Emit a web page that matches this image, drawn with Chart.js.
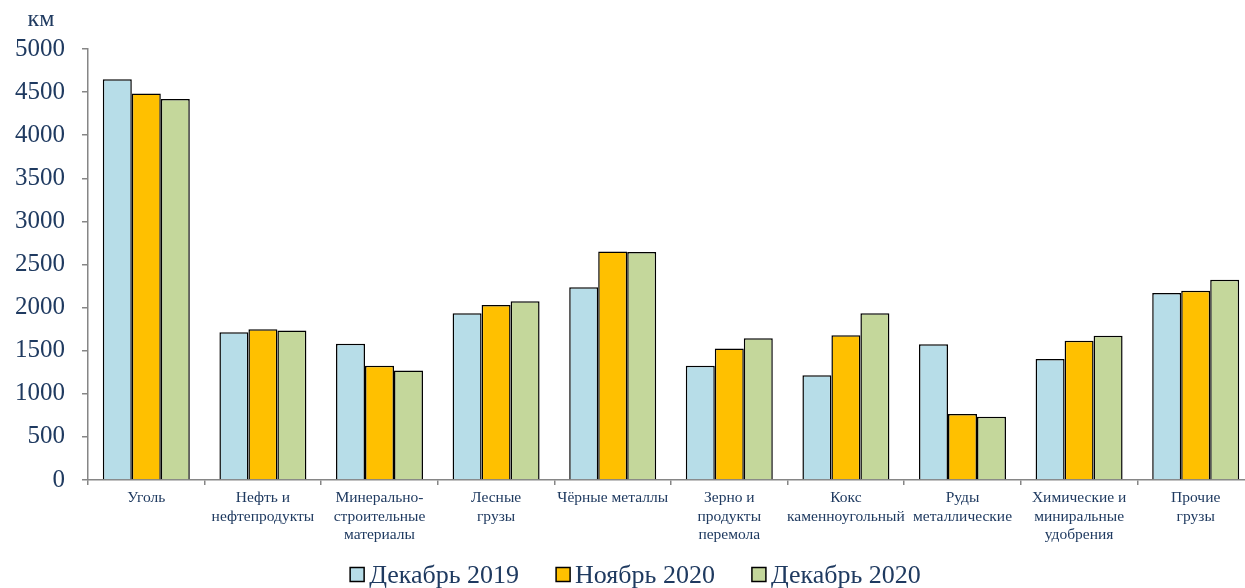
<!DOCTYPE html>
<html>
<head>
<meta charset="utf-8">
<script src="https://cdn.jsdelivr.net/npm/chart.js@4/dist/chart.umd.min.js"></script>
<style>
html,body{margin:0;padding:0;overflow:hidden;background:#fff;}
#wrap{width:1254px;height:588px;position:relative;}
</style>
</head>
<body>
<div id="wrap"><canvas id="c"></canvas></div>
<script>
const categories = [
  ["Уголь"],
  ["Нефть и","нефтепродукты"],
  ["Минерально-","строительные","материалы"],
  ["Лесные","грузы"],
  ["Чёрные металлы"],
  ["Зерно и","продукты","перемола"],
  ["Кокс","каменноугольный"],
  ["Руды","металлические"],
  ["Химические и","миниральные","удобрения"],
  ["Прочие","грузы"]
];
const seriesNames = ["Декабрь 2019", "Ноябрь 2020", "Декабрь 2020"];
const dec2019 = [4650, 1715, 1580, 1935, 2235, 1325, 1215, 1575, 1405, 2168];
const nov2020 = [4485, 1750, 1325, 2030, 2650, 1525, 1680, 765, 1615, 2195];
const dec2020 = [4420, 1735, 1270, 2075, 2645, 1645, 1935, 735, 1672, 2322];
const yTicks = [0, 500, 1000, 1500, 2000, 2500, 3000, 3500, 4000, 4500, 5000];
const unitLabel = "км";

const textColor = "#1F3A60";
const axisColor = "#868686";
const FONT = "'Liberation Serif','Times New Roman',serif";

const unitPlugin = {
  id: "unit",
  afterDraw(chart) {
    const ctx = chart.ctx;
    ctx.save();
    ctx.font = "24px " + FONT;
    ctx.fillStyle = textColor;
    ctx.textAlign = "center";
    ctx.textBaseline = "alphabetic";
    ctx.fillText(unitLabel, 41, 26);
    ctx.restore();
  }
};

const legendPlugin = {
  id: "bottomLegend",
  afterDraw(chart) {
    const ctx = chart.ctx;
    const ds = chart.data.datasets;
    ctx.save();
    ctx.font = "26px " + FONT;
    const box = 14, gapBoxText = 5, gapItems = 37;
    const widths = ds.map(d => box + gapBoxText + ctx.measureText(d.label).width);
    const total = widths.reduce((a, b) => a + b, 0) + gapItems * (ds.length - 1);
    let x = 635.5 - total / 2;
    ds.forEach((d, i) => {
      ctx.fillStyle = d.backgroundColor;
      ctx.fillRect(x, 567.5, box, box);
      ctx.strokeStyle = "#000";
      ctx.lineWidth = 1.5;
      ctx.strokeRect(x, 567.5, box, box);
      ctx.fillStyle = textColor;
      ctx.textAlign = "left";
      ctx.textBaseline = "alphabetic";
      ctx.fillText(d.label, x + box + gapBoxText, 583);
      x += widths[i] + gapItems;
    });
    ctx.restore();
  }
};

new Chart(document.getElementById("c"), {
  type: "bar",
  data: {
    labels: categories,
    datasets: [
      {label: seriesNames[0], data: dec2019, backgroundColor: "#B7DDE8"},
      {label: seriesNames[1], data: nov2020, backgroundColor: "#FFC000"},
      {label: seriesNames[2], data: dec2020, backgroundColor: "#C4D79B"}
    ].map(d => Object.assign(d, {borderColor: "#000", borderWidth: 1.5, categoryPercentage: 0.746, barPercentage: 1.0}))
  },
  options: {
    responsive: true,
    maintainAspectRatio: false,
    animation: false,
    layout: {padding: {top: 49, left: 0, right: 0, bottom: 38}},
    plugins: {
      tooltip: {enabled: false},
      legend: {display: false}
    },
    scales: {
      x: {
        grid: {drawOnChartArea: false, color: axisColor, tickLength: 5, offset: true, lineWidth: 1.5},
        border: {color: axisColor, width: 1.5},
        ticks: {font: {family: FONT, size: 15.5, lineHeight: 1.19}, color: textColor, maxRotation: 0, autoSkip: false, padding: 4},
        afterFit(scale) { scale.height = 70; }
      },
      y: {
        min: 0, max: 5000,
        afterBuildTicks(scale) { scale.ticks = yTicks.map(v => ({value: v})); },
        grid: {drawOnChartArea: false, color: axisColor, tickLength: 6, lineWidth: 1.5},
        border: {color: axisColor, width: 1.5},
        ticks: {font: {family: FONT, size: 25}, color: textColor, padding: 17, callback: v => String(v)},
        afterFit(scale) { scale.width = 88; }
      }
    }
  },
  plugins: [unitPlugin, legendPlugin]
});
</script>
</body>
</html>
